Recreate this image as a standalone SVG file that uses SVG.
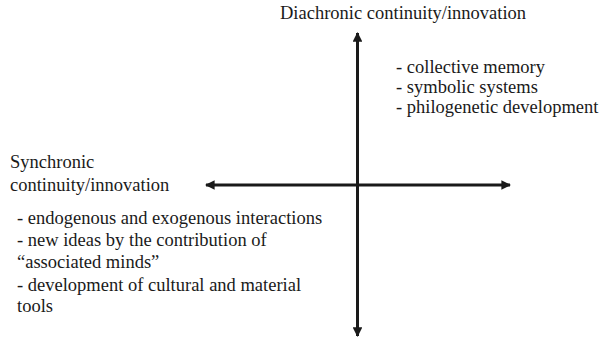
<svg xmlns="http://www.w3.org/2000/svg" width="606" height="340" viewBox="0 0 606 340">
<style>
text{font-family:"Liberation Serif","Times New Roman",serif;font-size:18.5px;fill:#1a1a1a}
.ax{stroke:#1a1a1a;stroke-width:3;fill:none}
</style>
<defs>
<marker id="ah" viewBox="0 0 10 10" refX="9" refY="5" markerWidth="3.2" markerHeight="3.2" orient="auto-start-reverse" markerUnits="strokeWidth">
<path d="M0,0 L10,5 L0,10 Z" fill="#1a1a1a"/>
</marker>
</defs>
<g id="connectors">
<line class="ax" x1="357.5" y1="336" x2="357.5" y2="33" marker-start="url(#ah)" marker-end="url(#ah)"/>
<line class="ax" x1="206" y1="185" x2="510" y2="185" marker-start="url(#ah)" marker-end="url(#ah)"/>
</g>
<g id="diachronic">
<text x="280" y="19">Diachronic continuity/innovation</text>
</g>
<g id="diachronic-list">
<text x="396" y="72.5">- collective memory</text>
<text x="396" y="92.5">- symbolic systems</text>
<text x="396" y="112.5">- philogenetic development</text>
</g>
<g id="synchronic">
<text x="10" y="168">Synchronic</text>
<text x="10" y="191">continuity/innovation</text>
</g>
<g id="synchronic-list">
<text x="17" y="224">- endogenous and exogenous interactions</text>
<text x="17" y="246">- new ideas by the contribution of</text>
<text x="17" y="268">“associated minds”</text>
<text x="17" y="290.5">- development of cultural and material</text>
<text x="17" y="312">tools</text>
</g>
</svg>
